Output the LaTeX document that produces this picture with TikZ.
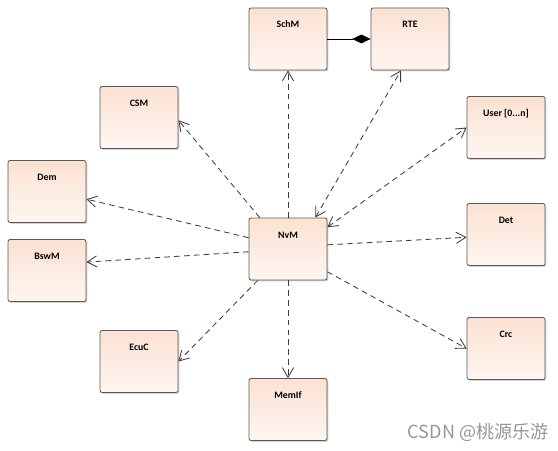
\documentclass[tikz,border=0pt]{standalone}
\usepackage{fontspec}
\setmainfont{Carlito}
\newfontfamily\cjkfont{Noto Sans CJK SC}
\usepackage{xcolor}
\usepackage{tikz}
\usetikzlibrary{arrows.meta, shadows}
\definecolor{boxedge}{RGB}{90,90,90}
\definecolor{boxtop}{RGB}{251,226,210}
\definecolor{boxbot}{RGB}{254,246,241}
\definecolor{linkgray}{RGB}{60,60,60}
\definecolor{markgray}{RGB}{150,150,150}
\tikzset{
  module/.style={rectangle, draw=boxedge, top color=boxtop, bottom color=boxbot,
    minimum width=1.95cm, minimum height=1.55cm, inner ysep=0.2cm,
    text height=0.3cm, text depth=0.85cm, align=center,
    font=\fontsize{7}{8}\selectfont\bfseries, rounded corners=1.5pt, line width=0.6pt,
    drop shadow={shadow xshift=1pt, shadow yshift=-1pt, opacity=0.35}},
  uses/.style={-{Straight Barb[length=2.4mm,width=2.8mm]}, dashed,
    dash pattern=on 4pt off 3pt, color=linkgray, line width=0.6pt},
  mutual/.style={uses, {Straight Barb[length=2.4mm,width=2.8mm]}-{Straight Barb[length=2.4mm,width=2.8mm]}},
  owns/.style={-{Diamond[length=4.6mm,width=2.2mm]}, black, line width=0.6pt}
}

\begin{document}
\begin{tikzpicture}
  \useasboundingbox (0,0) rectangle (13.95,11.25);

  \node[module] (schm) at (7.2,10.275) {SchM};
  \node[module] (rte) at (10.25,10.275) {RTE};
  \node[module] (csm) at (3.475,8.3125) {CSM};
  \node[module] (user) at (12.65,8.0625) {User [0...n]};
  \node[module] (dem) at (1.175,6.4625) {Dem};
  \node[module] (nvm) at (7.2,5.025) {NvM};
  \node[module] (det) at (12.65,5.3875) {Det};
  \node[module] (bswm) at (1.175,4.4875) {BswM};
  \node[module] (ecuc) at (3.475,2.2125) {EcuC};
  \node[module] (crc) at (12.65,2.5375) {Crc};
  \node[module] (memif) at (7.2,1.0125) {MemIf};

  % composition SchM - RTE
  \draw[owns] (schm.east) -- (rte.west);

  % dependencies of NvM
  \draw[uses] (nvm.north) -- (schm.south);
  \draw[mutual] (nvm.49) -- (rte.254);
  \draw[mutual] (nvm.29) -- (user.180);
  \draw[uses] (nvm.132) -- (csm.-4);
  \draw[uses] (nvm.164) -- (dem.-11);
  \draw[uses] (nvm.184) -- (bswm.12);
  \draw[uses] (nvm.226) -- (ecuc.0);
  \draw[uses] (nvm.south) -- (memif.north);
  \draw[uses] (nvm.6) -- (det.184);
  \draw[uses] (nvm.-30) -- (crc.180);

  \node[text=markgray, font=\cjkfont\fontsize{12.8}{14}\selectfont] (mark) at (11.95,0.45) {CSDN @桃源乐游};
\end{tikzpicture}
\end{document}
